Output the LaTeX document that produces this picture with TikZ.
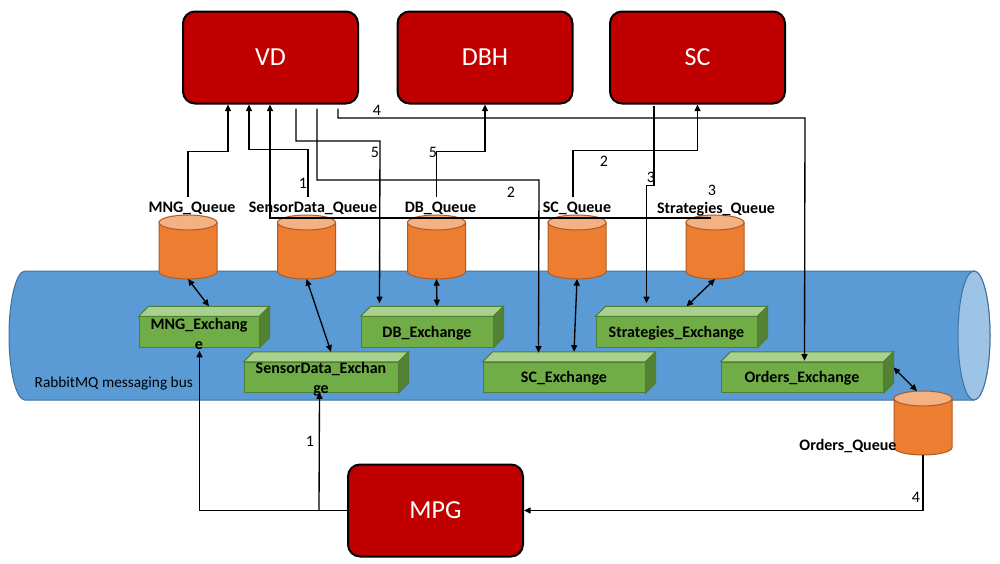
\documentclass[tikz,border=0pt]{standalone}
\usepackage{fontspec}
\setmainfont{Carlito}
\usepackage{tikz}
\usetikzlibrary{arrows.meta,positioning,calc}

\definecolor{boxred}{HTML}{C00000}
\definecolor{busbody}{HTML}{5B9BD5}
\definecolor{busend}{HTML}{9DC3E6}
\definecolor{busline}{HTML}{41719C}
\definecolor{qbody}{HTML}{ED7D31}
\definecolor{qtop}{HTML}{F4B183}
\definecolor{qline}{HTML}{AE5A21}
\definecolor{exfront}{HTML}{70AD47}
\definecolor{extop}{HTML}{A9D18E}
\definecolor{exside}{HTML}{548235}
\definecolor{exline}{HTML}{507E32}

\tikzset{
  svc/.style={draw=black,line width=1.5pt,fill=boxred,rounded corners=9pt,
    minimum width=131.25pt,minimum height=69pt,text=white,
    font=\fontsize{19.5}{23}\selectfont},
  queue/.style={minimum width=43.5pt,minimum height=48pt,inner sep=0pt,outer sep=0pt},
  qlbl/.style={anchor=base,font=\bfseries\fontsize{12}{14}\selectfont},
  exch/.style={draw=exline,line width=0.75pt,fill=exfront,minimum height=22.75pt,
    inner sep=0pt},
  exlbl/.style={align=center,inner sep=0pt,font=\bfseries\fontsize{12}{15}\selectfont},
  num/.style={inner sep=0pt,font=\fontsize{12}{14}\selectfont},
  conn/.style={->,line width=1pt},
  biconn/.style={<->,line width=1pt},
  >={Triangle[length=5pt,width=4.5pt]}
}

\begin{document}
\begin{tikzpicture}[x=0.75pt,y=-0.75pt]
	\useasboundingbox (0,0) rectangle (1000,564);
	
	% the bus
	\fill[busbody,draw=busline,line width=0.75pt] (974,271) -- (25,271)
	arc[start angle=90,end angle=270,x radius=12pt,y radius=48.4pt]
	-- (974,400)
	arc[start angle=-90,end angle=90,x radius=12pt,y radius=48.4pt] -- cycle;
	\draw[busline,fill=busend,line width=0.75pt] (974,335.5)
	ellipse[x radius=12pt,y radius=48.4pt];
	\node[anchor=base west,font=\fontsize{11.5}{14}\selectfont] (buslbl) at (30,387)
	{RabbitMQ messaging bus};
	
	% services
	\node[svc] (vd) at (270.5,57.5) {VD};
	\node[svc] (dbh) at (485,57.5) {DBH};
	\node[svc] (sc) at (697.5,57.5) {SC};
	\node[svc] (mpg) at (435.5,510.5) {MPG};
	
	% queues
	\node[queue] (mngq) at (188,247) {};
	\node[queue] (sdq) at (306.5,247) {};
	\node[queue] (dbq) at (436.5,247) {};
	\node[queue] (scq) at (577,247) {};
	\node[queue] (strq) at (715,247) {};
	\node[queue] (ordq) at (923,423) {};
	
	\foreach \q in {mngq,sdq,dbq,scq,strq,ordq}{
		\draw[qline,fill=qbody,line width=0.75pt] ([yshift=-5.6pt]\q.north west)
		-- ([yshift=5.6pt]\q.south west)
		arc[start angle=180,end angle=360,x radius=21.75pt,y radius=5.6pt]
		-- ([yshift=-5.6pt]\q.north east) -- cycle;
		\draw[qline,fill=qtop,line width=0.75pt] ([yshift=-5.6pt]\q.north)
		ellipse[x radius=21.75pt,y radius=5.6pt];
	}
	
	\node[qlbl] (mngql) at (192,212) {MNG\_Queue};
	\node[qlbl] (sdql) at (313,212) {SensorData\_Queue};
	\node[qlbl] (dbql) at (440.5,212) {DB\_Queue};
	\node[qlbl] (scql) at (577,212) {SC\_Queue};
	\node[qlbl] (strql) at (716,213) {Strategies\_Queue};
	\node[qlbl] (ordql) at (848,450) {Orders\_Queue};
	
	% exchanges
	\node[exch,minimum width=90pt] (mnge) at (199,332) {};
	\node[exch,minimum width=115.5pt] (sde) at (321,377.5) {};
	\node[exch,minimum width=99pt] (dbe) at (427,332) {};
	\node[exch,minimum width=120.75pt] (stre) at (676.5,332) {};
	\node[exch,minimum width=121.5pt] (sce) at (564,377.5) {};
	\node[exch,minimum width=121.5pt] (orde) at (802,377.5) {};
	
	\foreach \e in {mnge,sde,dbe,stre,sce,orde}{
		\draw[exline,fill=extop,line width=0.75pt] (\e.north west) -- ++(10,-10)
		-- ($(\e.north east)+(10,-10)$) -- (\e.north east) -- cycle;
		\draw[exline,fill=exside,line width=0.75pt] (\e.north east) -- ++(10,-10)
		-- ($(\e.south east)+(10,-10)$) -- (\e.south east) -- cycle;
	}
	
	\node[exlbl] (mngetxt) at ($(mnge)+(0,2)$) {MNG\_Exchang\\e};
	\node[exlbl] (sdetxt) at ($(sde)+(0,2)$) {SensorData\_Exchan\\ge};
	\node[exlbl] (dbetxt) at ($(dbe)+(0,1)$) {DB\_Exchange};
	\node[exlbl] (stretxt) at ($(stre)+(0,1)$) {Strategies\_Exchange};
	\node[exlbl] (scetxt) at ($(sce)+(0,1)$) {SC\_Exchange};
	\node[exlbl] (ordetxt) at ($(orde)+(0,1)$) {Orders\_Exchange};
	
	% queue to service
	\draw[conn] (mngq.north |- mngql.north) -- ++(0,-45) -| (vd.south -| 228,0);
	\draw[conn] (sdql.north -| 308,0) -- ++(0,-47) -| (vd.south -| 249,0);
	\draw[conn] ($(strq.north)+(-4,3)$) -| (vd.south -| 270,0);
	\draw[conn] (dbq.north |- dbql.north) -- ++(0,-45) -| (dbh.south);
	\draw[conn] (scql.north -| 573,0) -- ++(0,-46) -| (sc.south);
	
	% service to exchange
	\draw[conn] ($(vd.south west)+(114,4)$) |- (380,141) -- ($(dbe.north west)+(19,-13)$);
	\draw[conn] ($(vd.south west)+(135,4)$) |- (539,180) -- ($(sce.north west)+(56,-9)$);
	\draw[conn] ($(vd.south west)+(156,4)$) |- (805,118) -- ($(orde.north west)+(84,-1)$);
	\draw[conn] ($(sc.south west)+(45,1)$) -- ++(0,80) -| ($(stre.north west)+(51,-13)$);
	
	\draw[conn] (mpg.west) -| ($(mnge.south west)+(61,3)$);
	\draw[conn] ($(mpg.west)+(-28,0)$) -- ($(sde.south west)+(76,-1)$);
	\draw[conn] (ordq.south) |- (mpg.east);
	
	% exchange <-> queue
	\draw[biconn] (mngq.south) -- ($(mnge.north)+(10,-10)$);
	\draw[biconn] (sdq.south) -- ($(sde.north)+(10,-10)$);
	\draw[biconn] (dbq.south) -- ($(dbe.north)+(10,-10)$);
	\draw[biconn] (scq.south) -- ($(sce.north)+(10,-10)$);
	\draw[biconn] (strq.south) -- ($(stre.north)+(10,-10)$);
	\draw[biconn] ($(orde.east)+(10,-10)$) -- ($(ordq.north)+(-6,0)$);
	
	% step numbers
	\node[num] (n4a) at (377,110) {4};
	\node[num] (n5a) at (375,152) {5};
	\node[num] (n5b) at (433,152) {5};
	\node[num] (n1a) at (303,183) {1};
	\node[num] (n2a) at (511,192) {2};
	\node[num] (n2b) at (604,161) {2};
	\node[num] (n3a) at (651,177) {3};
	\node[num] (n3b) at (712,190) {3};
	\node[num] (n1b) at (310,441) {1};
	\node[num] (n4b) at (916,497) {4};
	
\end{tikzpicture}
\end{document}
